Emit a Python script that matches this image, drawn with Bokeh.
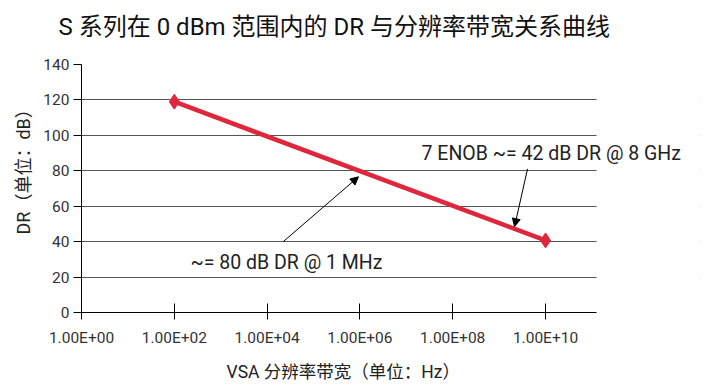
from bokeh.plotting import figure
from bokeh.models import (FixedTicker, Label, Arrow, NormalHead, Range1d, ColumnDataSource,
                          BoxAnnotation, Title)
from bokeh.embed import file_html
from bokeh.resources import INLINE

# data
rbw_hz = [1e2, 1e10]
dr_db = [119, 40.7]
x_ticks = [1e0, 1e2, 1e4, 1e6, 1e8, 1e10]
x_tick_labels = ["1.00E+00", "1.00E+02", "1.00E+04", "1.00E+06", "1.00E+08", "1.00E+10"]
y_ticks = [0, 20, 40, 60, 80, 100, 120, 140]

FONT = "Roboto, 'Noto Sans CJK SC', sans-serif"
RED = "#E0263C"

X_MIN = 1.0
X_AXIS_END = 10 ** 11.1
X_MAX = 10 ** 13.34

p = figure(width=704, height=391, x_axis_type="log", output_backend="svg",
           toolbar_location=None, x_range=Range1d(X_MIN, X_MAX),
           y_range=Range1d(0, 140),
           min_border_left=81, min_border_right=4, min_border_top=64, min_border_bottom=78)

p.title.text = "S 系列在 0 dBm 范围内的 DR 与分辨率带宽关系曲线"
p.title.text_font = FONT
p.title.text_font_size = "24px"
p.title.text_font_style = "normal"
p.title.text_color = "#111111"
p.title.align = "left"
p.title.offset = -23
p.title.standoff = 0

# spacer between the title and the plot area
p.add_layout(Title(text=" ", text_font_size="1px", standoff=21), "above")

p.outline_line_color = None
p.background_fill_color = "white"
p.border_fill_color = "white"

# mask the grid beyond the end of the x axis (frame is widened so labels are not clipped)
p.add_layout(BoxAnnotation(left=X_AXIS_END, fill_color="white", fill_alpha=1,
                           line_color=None, level="underlay"))

src = ColumnDataSource(dict(x=rbw_hz, y=dr_db))
p.line("x", "y", source=src, line_color=RED, line_width=4.5)
p.scatter("x", "y", source=src, marker="diamond", size=15, fill_color=RED, line_color=RED)

# axes
p.xaxis.ticker = FixedTicker(ticks=x_ticks)
p.xaxis.major_label_overrides = {t: l for t, l in zip(x_ticks, x_tick_labels)}
p.xaxis.bounds = (X_MIN, X_AXIS_END)
p.yaxis.ticker = FixedTicker(ticks=y_ticks)
p.xaxis.minor_tick_line_color = None
p.yaxis.minor_tick_line_color = None
p.xaxis.major_tick_in = 9
p.xaxis.major_tick_out = 7
p.yaxis.major_tick_in = 0
p.yaxis.major_tick_out = 8
for ax in (p.xaxis, p.yaxis):
    ax.axis_line_color = "black"
    ax.major_tick_line_color = "black"
    ax.major_label_text_font = FONT
    ax.major_label_text_font_size = "15.5px"
    ax.major_label_text_color = "#333333"
p.xaxis.major_label_standoff = 9
p.yaxis.major_label_standoff = 4

# axis titles as side-panel titles (so they can be positioned along the axes)
xlab = Title(text="VSA 分辨率带宽（单位：Hz）", align="left", offset=145,
             text_font=FONT, text_font_size="17.5px", text_font_style="normal",
             text_color="#222222", standoff=20)
p.add_layout(xlab, "below")
ylab = Title(text="DR（单位：dB）", align="left", offset=78,
             text_font=FONT, text_font_size="18px", text_font_style="normal",
             text_color="#222222", standoff=14)
p.add_layout(ylab, "left")

p.xgrid.grid_line_color = None
p.ygrid.grid_line_color = "#555555"
p.ygrid.grid_line_width = 1

# annotations
p.add_layout(Label(x=223, y=28.3, text="~= 80 dB DR @ 1 MHz", text_font=FONT,
                   text_font_size="19.5px", text_color="#222222", text_baseline="middle"))
p.add_layout(Label(x=2.13e7, y=89.6, text="7 ENOB ~= 42 dB DR @ 8 GHz", text_font=FONT,
                   text_font_size="19.5px", text_color="#222222", text_baseline="middle"))
p.add_layout(Arrow(x_start=2.25e4, y_start=40.1, x_end=9.3e5, y_end=76.6,
                   line_color="black", line_width=1,
                   end=NormalHead(size=8, fill_color="black", line_color="black")))
p.add_layout(Arrow(x_start=4.1e9, y_start=81.1, x_end=2.15e9, y_end=48.5,
                   line_color="black", line_width=1,
                   end=NormalHead(size=8, fill_color="black", line_color="black")))

open("out.html", "w").write(file_html(p, INLINE))
